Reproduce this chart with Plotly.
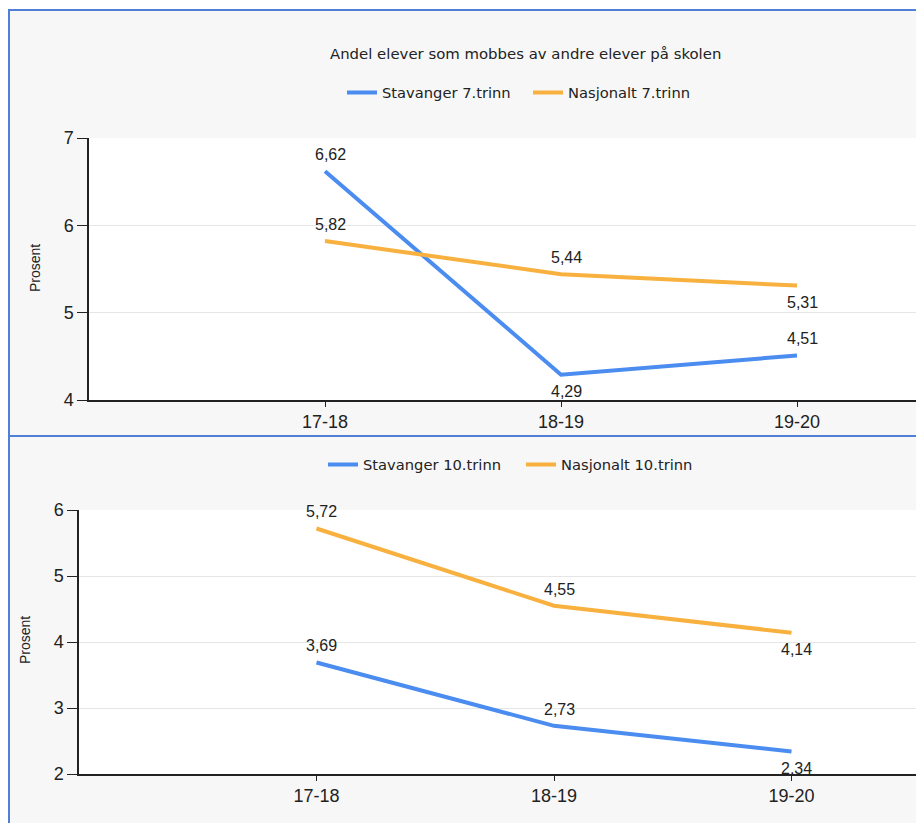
import plotly.graph_objects as go

categories = ["17-18", "18-19", "19-20"]
stav7 = [6.62, 4.29, 4.51]
nasj7 = [5.82, 5.44, 5.31]
stav10 = [3.69, 2.73, 2.34]
nasj10 = [5.72, 4.55, 4.14]

title = "Andel elever som mobbes av andre elever på skolen"
names_top = ["Stavanger 7.trinn", "Nasjonalt 7.trinn"]
names_bot = ["Stavanger 10.trinn", "Nasjonalt 10.trinn"]

# +1 = label above the point, -1 = label below
side_stav7 = [1, -1, 1]
side_nasj7 = [1, 1, -1]
side_stav10 = [1, 1, -1]
side_nasj10 = [1, 1, -1]

BLUE = "#4a8cf0"
ORANGE = "#f8b13e"
OFF = 8                      # page body margin
W, H = 924 - OFF, 823 - OFF  # figure size so it ends at the window edge

def fmt(v):
    return f"{v:.2f}".replace(".", ",")

xs = list(range(len(categories)))
fig = go.Figure()
labels = []

def add(vals, name, color, sides, xa, ya, legend):
    fig.add_trace(go.Scatter(
        x=xs, y=vals, name=name, mode="lines",
        line=dict(color=color, width=4),
        xaxis=xa, yaxis=ya, legend=legend,
    ))
    for xv, yv, s in zip(xs, vals, sides):
        labels.append(dict(
            x=xv, y=yv, xref=xa, yref=ya, text=fmt(yv), showarrow=False,
            xanchor="center", yanchor="middle", xshift=5, yshift=16.5 * s,
            font=dict(family="Liberation Sans", size=16, color="#222222"),
        ))

add(stav7, names_top[0], BLUE, side_stav7, "x", "y", "legend")
add(nasj7, names_top[1], ORANGE, side_nasj7, "x", "y", "legend")
add(stav10, names_bot[0], BLUE, side_stav10, "x2", "y2", "legend2")
add(nasj10, names_bot[1], ORANGE, side_nasj10, "x2", "y2", "legend2")

# convert reference-screen pixels into paper fractions
def px_x(p):
    return (p - OFF) / W

def px_y(p):
    return 1 - (p - OFF) / H

tickfont = dict(family="Liberation Sans", size=18, color="#222222")
common_x = dict(tickvals=xs, ticktext=categories, showgrid=False, zeroline=False,
                showline=True, linecolor="#222222", linewidth=1.5, automargin=False,
                ticks="outside", ticklen=5, tickcolor="#222222", tickfont=tickfont)
common_y = dict(showgrid=True, gridcolor="#e6e6e6", zeroline=False, dtick=1,
                showline=True, linecolor="#222222", linewidth=1.5, automargin=False,
                ticks="outside", ticklen=10, tickcolor="#222222", tickfont=tickfont)

top_left = 89
bot_left = 79
right = 924
fig.update_layout(
    width=W, height=H, autosize=False,
    margin=dict(l=0, r=0, t=0, b=0, autoexpand=False),
    paper_bgcolor="white", plot_bgcolor="rgba(0,0,0,0)",
    xaxis=dict(domain=[px_x(top_left), 1], range=[-1, (right - top_left) / 236 - 1],
               anchor="y", **common_x),
    yaxis=dict(domain=[px_y(400), px_y(138)], range=[4, 7], anchor="x", **common_y),
    xaxis2=dict(domain=[px_x(bot_left), 1], range=[-1, (right - bot_left) / 237.5 - 1],
                anchor="y2", **common_x),
    yaxis2=dict(domain=[px_y(774), px_y(510)], range=[2, 6], anchor="x2", **common_y),
    legend=dict(orientation="h", x=px_x(528), xanchor="center", y=px_y(93), yanchor="middle",
                bgcolor="rgba(0,0,0,0)", entrywidth=141,
                font=dict(family="DejaVu Sans", size=14.7, color="#222222")),
    legend2=dict(orientation="h", x=px_x(521), xanchor="center", y=px_y(465), yanchor="middle",
                 bgcolor="rgba(0,0,0,0)", entrywidth=153,
                 font=dict(family="DejaVu Sans", size=14.7, color="#222222")),
    shapes=[
        dict(type="rect", xref="paper", yref="paper", x0=px_x(9), x1=px_x(right + 5),
             y0=px_y(436), y1=px_y(10), fillcolor="#f7f7f7",
             line=dict(color="#4f7fd6", width=2), layer="below"),
        dict(type="rect", xref="paper", yref="paper", x0=px_x(9), x1=px_x(right + 5),
             y0=px_y(830), y1=px_y(436), fillcolor="#f7f7f7",
             line=dict(color="#4f7fd6", width=2), layer="below"),
        dict(type="rect", xref="paper", yref="paper", x0=px_x(top_left), x1=1,
             y0=px_y(400), y1=px_y(138), fillcolor="white", line=dict(width=0), layer="below"),
        dict(type="rect", xref="paper", yref="paper", x0=px_x(bot_left), x1=1,
             y0=px_y(774), y1=px_y(510), fillcolor="white", line=dict(width=0), layer="below"),
    ],
    annotations=[
        dict(text=title, xref="paper", yref="paper", x=px_x(525), y=px_y(54),
             xanchor="center", yanchor="middle", showarrow=False,
             font=dict(family="DejaVu Sans", size=14.9, color="#222222")),
        dict(text="Prosent", xref="paper", yref="paper", x=px_x(35), y=px_y(268),
             xanchor="center", yanchor="middle", showarrow=False, textangle=-90,
             font=dict(family="Liberation Sans", size=14, color="#222222")),
        dict(text="Prosent", xref="paper", yref="paper", x=px_x(25), y=px_y(640),
             xanchor="center", yanchor="middle", showarrow=False, textangle=-90,
             font=dict(family="Liberation Sans", size=14, color="#222222")),
    ] + labels,
)

fig.write_html("out.html")
